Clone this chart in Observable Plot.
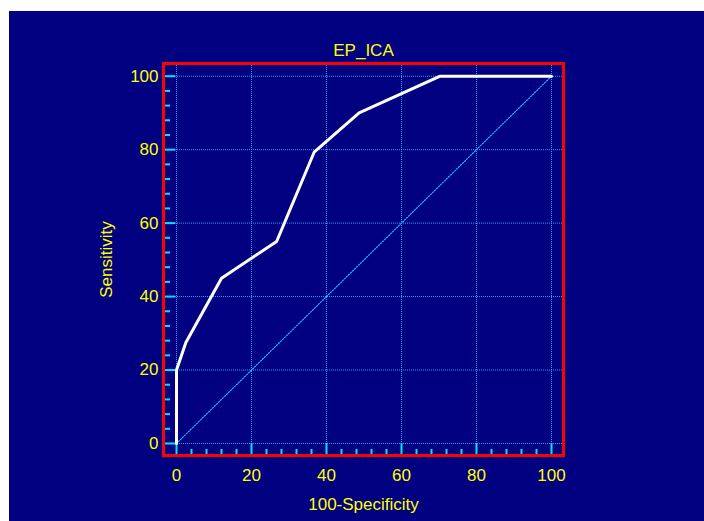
<!DOCTYPE html>
<html>
<head>
<meta charset="utf-8">
<script src="https://cdn.jsdelivr.net/npm/d3@7"></script>
<script src="https://cdn.jsdelivr.net/npm/@observablehq/plot@0.6"></script>
<style>
  html, body { margin: 0; padding: 0; background: #ffffff; }
  #chart { position: absolute; left: 9px; top: 11px; }
  #chart svg { display: block; }
</style>
</head>
<body>
<div id="chart"></div>
<script>
// ROC curve values (100-Specificity, Sensitivity)
const fpr = [0, 0, 2.5, 12, 26.7, 36.7, 48.7, 70.3, 100];
const tpr = [0, 20, 27.5, 45, 55, 79.3, 90, 100, 100];
// reference diagonal
const diag = [0, 100];
// ticks
const majorTicks = [0, 20, 40, 60, 80, 100];
const minorTicks = [4, 8, 12, 16, 24, 28, 32, 36, 44, 48, 52, 56, 64, 68, 72, 76, 84, 88, 92, 96];
const title = "EP_ICA";
const xLabel = "100-Specificity";
const yLabel = "Sensitivity";

const W = 695, H = 510;
const mL = 154, mR = 141, mT = 52, mB = 66;
const xDom = [-3.467, 103.2];
const yDom = [-3.27, 103.46];
const kx = (W - mL - mR) / (xDom[1] - xDom[0]);
const ky = (H - mT - mB) / (yDom[1] - yDom[0]);

const roc = fpr.map((x, i) => ({x, y: tpr[i]}));
const diagPts = diag.map(v => ({x: v, y: v}));

const gridColor = "#10b0f8";
const tickColor = "#00e4ff";

const chart = Plot.plot({
  width: W,
  height: H,
  marginLeft: mL,
  marginRight: mR,
  marginTop: mT,
  marginBottom: mB,
  x: {domain: xDom, axis: null},
  y: {domain: yDom, axis: null},
  style: {
    background: "#000080",
    color: "#ffff00",
    fontFamily: "Arial, 'Liberation Sans', sans-serif",
    fontSize: "17px"
  },
  marks: [
    // grid
    Plot.ruleX(majorTicks, {stroke: gridColor, strokeWidth: 1, strokeDasharray: "1,1"}),
    Plot.ruleY(majorTicks, {stroke: gridColor, strokeWidth: 1, strokeDasharray: "1,1"}),
    // diagonal
    Plot.line(diagPts, {x: "x", y: "y", stroke: "#18b8ff", strokeWidth: 1.2, strokeDasharray: "1.2,1.6"}),
    // inner ticks y
    Plot.ruleY(majorTicks, {x1: xDom[0], x2: xDom[0] + 12 / kx, stroke: tickColor, strokeWidth: 2}),
    Plot.ruleY(minorTicks, {x1: xDom[0], x2: xDom[0] + 7 / kx, stroke: tickColor, strokeWidth: 2}),
    // inner ticks x
    Plot.ruleX(majorTicks, {y1: yDom[0], y2: yDom[0] + 12 / ky, stroke: tickColor, strokeWidth: 2}),
    Plot.ruleX(minorTicks, {y1: yDom[0], y2: yDom[0] + 6 / ky, stroke: tickColor, strokeWidth: 2}),
    // ROC curve
    Plot.line(roc, {x: "x", y: "y", stroke: "#ffffff", strokeWidth: 3}),
    // frame
    Plot.frame({stroke: "#ff0000", strokeWidth: 3}),
    // tick labels
    Plot.axisY(majorTicks, {anchor: "left", tickSize: 0, tickPadding: 5, fill: "#ffff00", fontSize: 17, label: null}),
    Plot.axisX(majorTicks, {anchor: "bottom", tickSize: 0, tickPadding: 13, fill: "#ffff00", fontSize: 17, label: null}),
    // titles
    Plot.text([title], {frameAnchor: "top", dy: -13, lineAnchor: "middle", textAnchor: "middle", fill: "#ffff00", fontSize: 17}),
    Plot.text([xLabel], {frameAnchor: "bottom", dy: 49, lineAnchor: "middle", textAnchor: "middle", fill: "#ffff00", fontSize: 17}),
    Plot.text([yLabel], {frameAnchor: "left", dx: -57, rotate: -90, lineAnchor: "middle", textAnchor: "middle", fill: "#ffff00", fontSize: 17})
  ]
});
document.getElementById("chart").appendChild(chart);
</script>
</body>
</html>
